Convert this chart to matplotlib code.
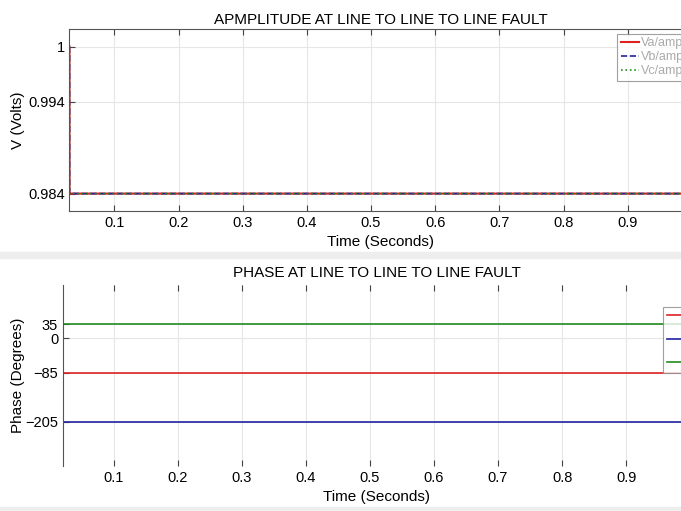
import matplotlib
matplotlib.use('Agg')
import matplotlib.pyplot as plt
from matplotlib.patches import Rectangle

plt.rcParams['font.family'] = ['Liberation Sans', 'DejaVu Sans']

# amplitude data (per unit)
t_amp = [0.03, 0.0301, 1.0]
va_amp = [1.0, 0.984, 0.984]
vb_amp = [1.0, 0.984, 0.984]
vc_amp = [1.0, 0.984, 0.984]

# phase data (degrees)
t_ph = [0.0, 1.0]
va_ph = [-85, -85]
vb_ph = [-205, -205]
vc_ph = [35, 35]

xticks = [0.1, 0.2, 0.3, 0.4, 0.5, 0.6, 0.7, 0.8, 0.9]
amp_ticks = [0.984, 0.994, 1.0]
amp_labels = ['0.984', '0.994', '1']
ph_ticks = [-205, -85, 0, 35]

red = '#dd2222'
blue = '#2222a0'
green = '#228b22'

fig = plt.figure(figsize=(6.81, 5.11), dpi=100)

# light separator bands like the stacked screenshots
fig.patches.append(Rectangle((0, 0.496), 1, 0.010, transform=fig.transFigure, color='#eeeeee', zorder=0))
fig.patches.append(Rectangle((0, 0.0), 1, 0.008, transform=fig.transFigure, color='#eeeeee', zorder=0))

ax1 = fig.add_axes([0.102, 0.587, 0.914, 0.356])
ax1.plot(t_amp, va_amp, color=red, lw=1.5, label='Va/amplitude')
ax1.plot(t_amp, vb_amp, color=blue, lw=1.2, ls='--', label='Vb/amplitude')
ax1.plot(t_amp, vc_amp, color=green, lw=1.2, ls=':', label='Vc/amplitude')
ax1.set_xlim(0.03, 1.0)
ax1.set_ylim(0.9821, 1.0019)
ax1.set_xticks(xticks)
ax1.set_xticklabels([str(x) for x in xticks])
ax1.set_yticks(amp_ticks)
ax1.set_yticklabels(amp_labels)
ax1.grid(True, color='#e6e6e6', lw=0.8)
ax1.tick_params(direction='in', top=True, right=True, labelsize=10.5, length=4, color='#444444')
for s in ax1.spines.values():
    s.set_color('#555555')
    s.set_linewidth(0.8)
ax1.set_title('APMPLITUDE AT LINE TO LINE TO LINE FAULT', fontsize=11, pad=4)
ax1.set_xlabel('Time (Seconds)', fontsize=11, labelpad=4)
ax1.set_ylabel('V (Volts)', fontsize=11, labelpad=2)
leg1 = fig.legend(handles=ax1.get_lines(), loc='upper left', bbox_to_anchor=(0.906, 0.934),
                  fontsize=9, frameon=True, fancybox=False, handlelength=1.5, handletextpad=0.1,
                  borderpad=0.3, labelspacing=0.15, borderaxespad=0)
leg1.get_frame().set_edgecolor('#888888')
leg1.get_frame().set_linewidth(0.8)
for txt in leg1.get_texts():
    txt.set_color('#aaaaaa')

ax2 = fig.add_axes([0.0925, 0.088, 0.921, 0.354])
ax2.plot(t_ph, va_ph, color=red, lw=1.2, label='Va/phase')
ax2.plot(t_ph, vb_ph, color=blue, lw=1.2, label='Vb/phase')
ax2.plot(t_ph, vc_ph, color=green, lw=1.2, label='Vc/phase')
ax2.set_xlim(0.021, 1.0)
ax2.set_ylim(-314, 131)
ax2.set_xticks(xticks)
ax2.set_xticklabels([str(x) for x in xticks])
ax2.set_yticks(ph_ticks)
ax2.grid(True, color='#e6e6e6', lw=0.8)
ax2.tick_params(direction='in', top=True, right=True, labelsize=10.5, length=4, color='#444444')
for s in ax2.spines.values():
    s.set_color('#555555')
    s.set_linewidth(0.8)
ax2.spines['top'].set_visible(False)
ax2.spines['bottom'].set_visible(False)
ax2.set_title('PHASE AT LINE TO LINE TO LINE FAULT', fontsize=11, pad=6)
ax2.set_xlabel('Time (Seconds)', fontsize=11, labelpad=4)
ax2.set_ylabel('Phase (Degrees)', fontsize=11, labelpad=0)
leg2 = fig.legend(handles=ax2.get_lines(), loc='upper left', bbox_to_anchor=(0.9736, 0.399),
                  fontsize=9, frameon=True, fancybox=False, handlelength=2.5, handletextpad=0.4,
                  borderpad=0.3, labelspacing=0.9, borderaxespad=0)
leg2.get_frame().set_edgecolor('#888888')
leg2.get_frame().set_linewidth(0.8)

fig.savefig('out.png', dpi=100)
